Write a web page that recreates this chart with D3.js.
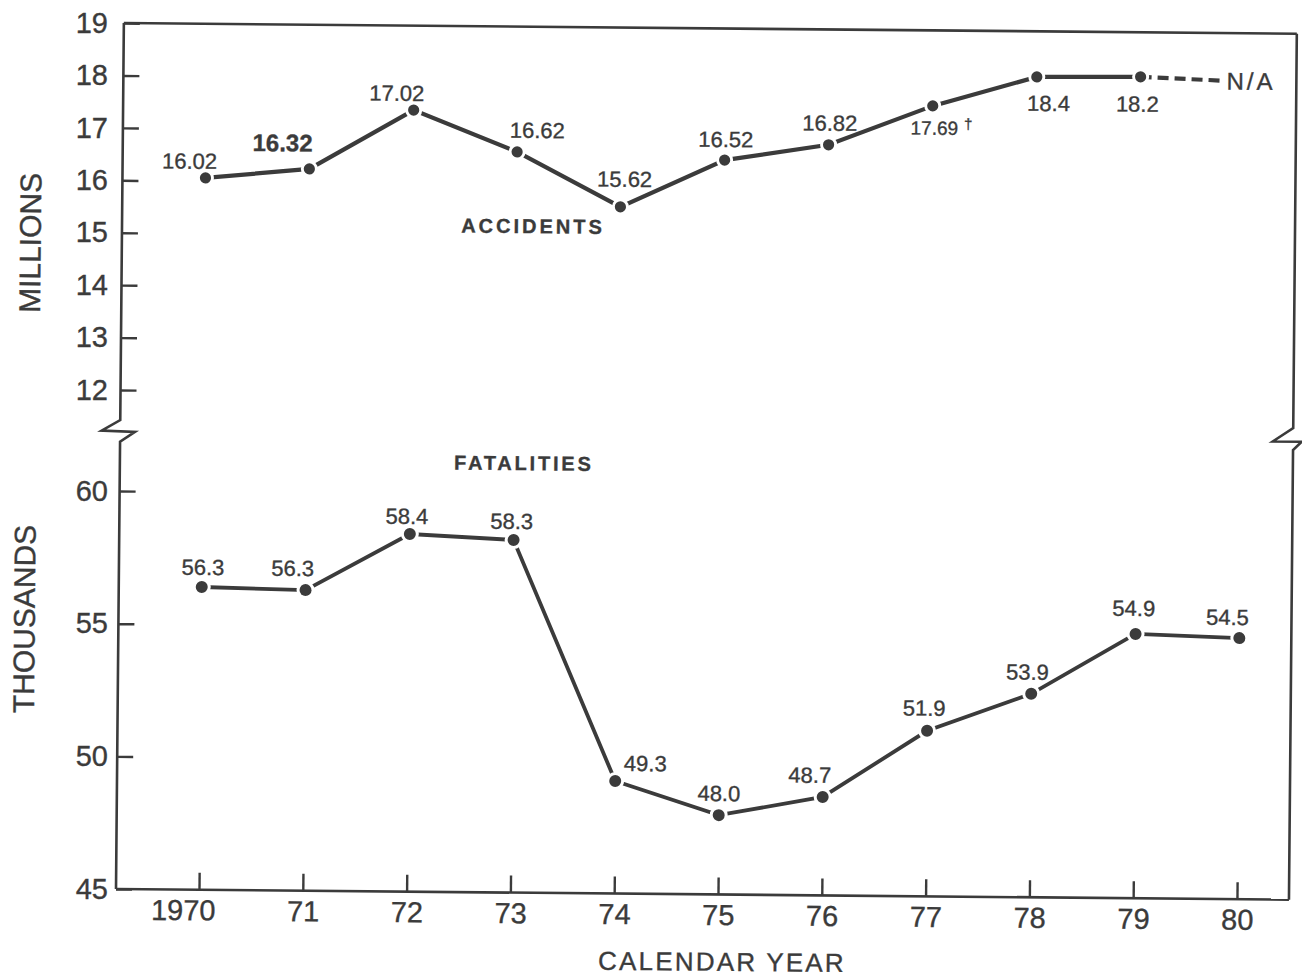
<!DOCTYPE html>
<html><head><meta charset="utf-8">
<script src="https://cdn.jsdelivr.net/npm/d3@7/dist/d3.min.js"></script>
<style>
body{margin:0;background:#fff}
text{font-family:"Liberation Sans",Arial,Helvetica,sans-serif;fill:#3b3b3b;stroke:#3b3b3b;stroke-width:0.35px}
</style>
</head><body>
<svg id="c" width="1302" height="980"></svg>
<script>
// ---------- data ----------
const years = [1970,1971,1972,1973,1974,1975,1976,1977,1978,1979,1980];
const yearTickLabels = ["1970","71","72","73","74","75","76","77","78","79","80"];
const accidentYears = [1970,1971,1972,1973,1974,1975,1976,1977,1978,1979];
const accidents = [16.06,16.25,17.39,16.61,15.58,16.49,16.80,17.56,18.13,18.15];
const accidentLabels = ["16.02","16.32","17.02","16.62","15.62","16.52","16.82","17.69","18.4","18.2"];
const accidentNAYears = [1979,1979.8];
const accidentNAValues = [18.15,18.09];
const fatalities = [56.41,56.33,58.48,58.29,49.24,47.99,48.71,51.24,52.67,54.96,54.84];
const fatalityLabels = ["56.3","56.3","58.4","58.3","49.3","48.0","48.7","51.9","53.9","54.9","54.5"];
const millionTicks = [12,13,14,15,16,17,18,19];
const thousandTicks = [45,50,55,60];

// ---------- layout / style ----------
const INK = "#3b3b3b";
const L = 116, R = 1289, T = 23, B = 889;
const accOff = [[-16,-17],[-27,-26],[-17,-17],[20,-22],[4,-28],[1,-21],[1,-22],[9,22],[12,26],[-3,27]];
const accSize = [22,24,22,22,22,22,22,19,22,22];
const accWeight = [400,700,400,400,400,400,400,400,400,400];
const fatOff = [[1,-20],[-13,-22],[-3,-18],[-2,-19],[30,-18],[0,-22],[-13,-22],[-3,-23],[-4,-22],[-2,-26],[-12,-21]];

const svg = d3.select("#c");
const g = svg.append("g").attr("transform", `rotate(0.52, ${L}, ${B})`);

const x = d3.scaleLinear().domain([1970,1980]).range([199,1237]);
const yA = d3.scaleLinear().domain([12,19]).range([390,23]);
const yF = d3.scaleLinear().domain([45,60]).range([889,491]);

// frame with break marks
const frame = g.append("g").attr("fill","none").attr("stroke",INK).attr("stroke-width",2.6)
  .attr("stroke-linejoin","miter");
frame.append("path").attr("d", `M${L},${T} V420 L97.5,430.8 L130.8,431.8 L${L},441.7 V${B}`);
frame.append("path").attr("d", `M${L},${T} H${R}`);
frame.append("path").attr("d", `M${R},${T} V417.3 L1268.6,431 L1297.6,431 L${R},439.3 V${B}`);
frame.append("path").attr("d", `M${L},${B} H${R}`);

// y tick marks (inside, pointing right)
const tickStyle = sel => { sel.select(".domain").remove(); sel.selectAll("line").attr("stroke",INK).attr("stroke-width",2.4); };
g.append("g").attr("transform",`translate(${L},0)`)
  .call(d3.axisLeft(yA).tickValues(millionTicks).tickSize(-16).tickFormat(""))
  .call(tickStyle);
g.append("g").attr("transform",`translate(${L},0)`)
  .call(d3.axisLeft(yF).tickValues(thousandTicks).tickSize(-16).tickFormat(""))
  .call(tickStyle);

// y tick labels (unrotated, as typed on the original)
const labStyle = sel => { sel.select(".domain").remove(); sel.selectAll("line").remove();
  sel.selectAll("text").attr("font-size",29).attr("fill",INK).attr("font-family",null); };
svg.append("g").attr("transform","translate(108,0)")
  .call(d3.axisLeft(yA).tickValues(millionTicks).tickSize(0).tickPadding(0).tickFormat(d3.format("d")))
  .call(labStyle);
svg.append("g").attr("transform","translate(108,0)")
  .call(d3.axisLeft(yF).tickValues(thousandTicks).tickSize(0).tickPadding(0).tickFormat(d3.format("d")))
  .call(labStyle);

// x axis ticks + labels
const xa = g.append("g").attr("transform",`translate(0,${B})`)
  .call(d3.axisBottom(x).tickValues(years).tickSize(-17).tickPadding(10)
    .tickFormat((d,i)=>yearTickLabels[i]));
xa.select(".domain").remove();
xa.selectAll("line").attr("stroke",INK).attr("stroke-width",2.4);
xa.selectAll("text").attr("font-size",29).attr("fill",INK).attr("font-family",null);
xa.selectAll("text").filter((d,i)=>i===0).attr("dx",-16);

// ---------- accidents ----------
const lineA = d3.line().x((d,i)=>x(accidentYears[i])).y(d=>yA(d));
g.append("path").datum(accidents).attr("d",lineA).attr("fill","none")
  .attr("stroke",INK).attr("stroke-width",4.2);
const naPts = accidentNAYears.map((yy,i)=>[x(yy), yA(accidentNAValues[i])]);
g.append("path").attr("d", d3.line()(naPts)).attr("fill","none")
  .attr("stroke",INK).attr("stroke-width",4.2).attr("stroke-dasharray","11,6");
const accG = g.append("g");
accG.selectAll("circle.h").data(accidents).join("circle")
  .attr("cx",(d,i)=>x(accidentYears[i])).attr("cy",d=>yA(d)).attr("r",8.5).attr("fill","#fff");
accG.selectAll("circle.d").data(accidents).join("circle")
  .attr("cx",(d,i)=>x(accidentYears[i])).attr("cy",d=>yA(d)).attr("r",5.6).attr("fill",INK);
const accT = g.append("g").selectAll("text").data(accidents).join("text")
  .attr("x",(d,i)=>x(accidentYears[i])+accOff[i][0])
  .attr("y",(d,i)=>yA(d)+accOff[i][1])
  .attr("dy","0.36em").attr("text-anchor","middle")
  .attr("font-size",(d,i)=>accSize[i]).attr("font-weight",(d,i)=>accWeight[i])
  .text((d,i)=>accidentLabels[i]);
accT.filter((d,i)=>i===7).append("tspan").attr("dx",6).attr("dy",-6).attr("font-size",15).text("†");

g.append("text").attr("x",naPts[1][0]+3).attr("y",naPts[1][1]).attr("dy","0.36em")
  .attr("font-size",24).attr("letter-spacing",3).text("N/A");
g.append("text").attr("x",527).attr("y",yA(15.2)).attr("dy","0.36em").attr("text-anchor","middle")
  .attr("font-size",20).attr("font-weight",700).attr("letter-spacing",3).text("ACCIDENTS");

// ---------- fatalities ----------
const lineF = d3.line().x((d,i)=>x(years[i])).y(d=>yF(d));
g.append("path").datum(fatalities).attr("d",lineF).attr("fill","none")
  .attr("stroke",INK).attr("stroke-width",3.8);
const fatG = g.append("g");
fatG.selectAll("circle.h").data(fatalities).join("circle")
  .attr("cx",(d,i)=>x(years[i])).attr("cy",d=>yF(d)).attr("r",9).attr("fill","#fff");
fatG.selectAll("circle.d").data(fatalities).join("circle")
  .attr("cx",(d,i)=>x(years[i])).attr("cy",d=>yF(d)).attr("r",6).attr("fill",INK);
g.append("g").selectAll("text").data(fatalities).join("text")
  .attr("x",(d,i)=>x(years[i])+fatOff[i][0])
  .attr("y",(d,i)=>yF(d)+fatOff[i][1])
  .attr("dy","0.36em").attr("text-anchor","middle").attr("font-size",22)
  .text((d,i)=>fatalityLabels[i]);
g.append("text").attr("x",520).attr("y",459.3).attr("dy","0.36em").attr("text-anchor","middle")
  .attr("font-size",20).attr("font-weight",700).attr("letter-spacing",2.8).text("FATALITIES");

// ---------- axis titles ----------
g.append("text").attr("x",722.7).attr("y",956).attr("dy","0.36em").attr("text-anchor","middle")
  .attr("font-size",26).attr("letter-spacing",2.2).text("CALENDAR YEAR");
g.append("text").attr("transform","translate(24,243.8) rotate(-90)").attr("dy","0.36em")
  .attr("text-anchor","middle").attr("font-size",30).text("MILLIONS");
g.append("text").attr("transform","translate(21.5,619.8) rotate(-90)").attr("dy","0.36em")
  .attr("text-anchor","middle").attr("font-size",30).text("THOUSANDS");
</script>
</body></html>
